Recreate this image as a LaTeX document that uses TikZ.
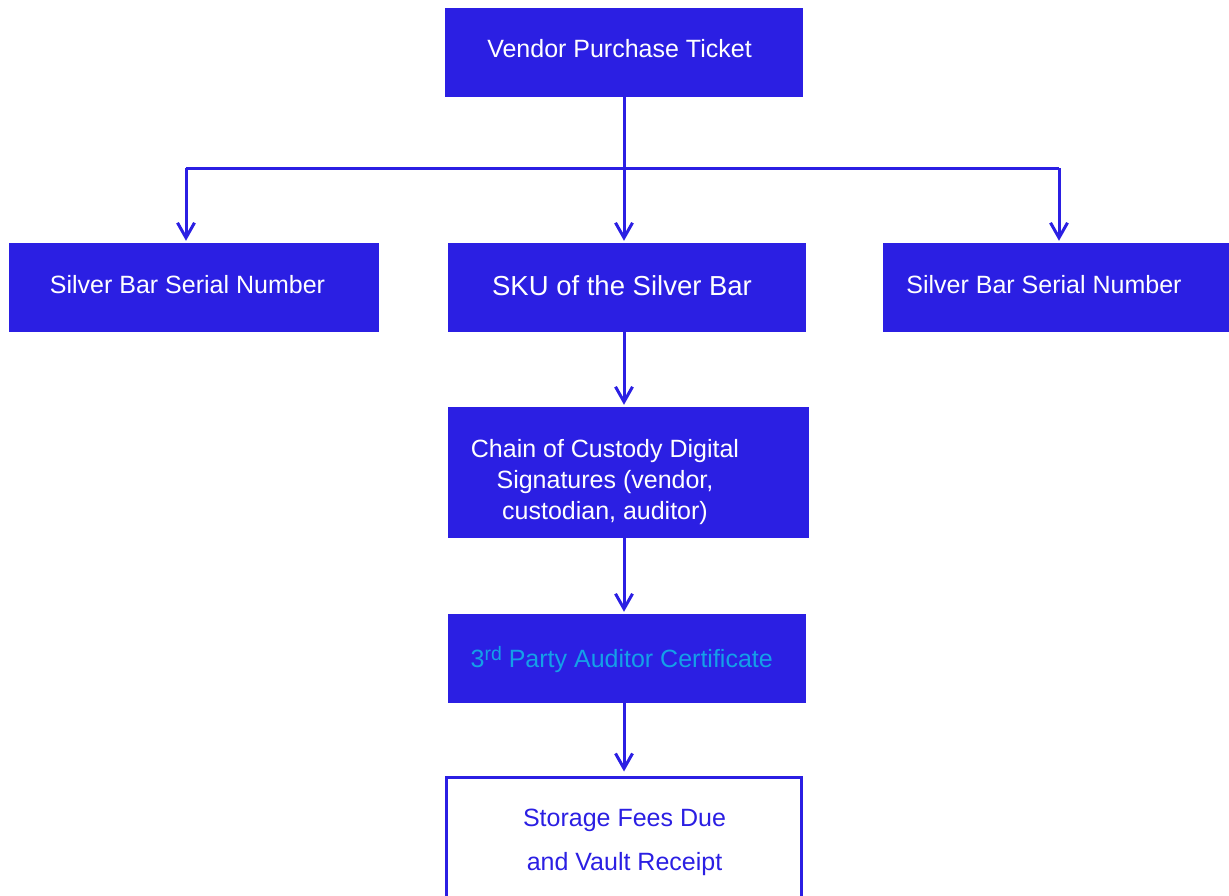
\documentclass[tikz,border=0pt]{standalone}
\usepackage{fontspec}
\setmainfont{Liberation Sans}
\usetikzlibrary{arrows.meta}
\definecolor{barblue}{RGB}{43,31,227}
\definecolor{certcyan}{RGB}{20,160,232}
\tikzset{
	box/.style={rectangle, fill=barblue, inner sep=0pt, minimum height=89pt},
	txt/.style={text=white, font=\fontsize{25}{31}\selectfont, inner sep=0pt, anchor=base, align=center},
	link/.style={draw=barblue, line width=3pt},
	arr/.style={link, -{Straight Barb[length=15pt,width=17pt]}, shorten >=2pt},
}
\begin{document}
\begin{tikzpicture}[x=1pt, y=-1pt]
	\useasboundingbox (0,0) rectangle (1229,896);
	\node[box, minimum width=358pt] (vendor) at (624,52.5) {};
	\node[txt] (vendortxt) at (619.5,57.3) {Vendor Purchase Ticket};
	\node[box, minimum width=370pt] (serialleft) at (194,287.5) {};
	\node[txt] (seriallefttxt) at (187.5,293.3) {Silver Bar Serial Number};
	\node[box, minimum width=358pt] (sku) at (627,287.5) {};
	\node[txt, font=\fontsize{27.5}{33}\selectfont] (skutxt) at (622,295) {SKU of the Silver Bar};
	\node[box, minimum width=346pt] (serialright) at (1056,287.5) {};
	\node[txt] (serialrighttxt) at (1044,293.3) {Silver Bar Serial Number};
	\node[box, minimum width=361pt, minimum height=131pt] (chain) at (628.5,472.5) {};
	\node[txt] (chaintxt) at (605,519) {Chain of Custody Digital\\Signatures (vendor,\\custodian, auditor)};
	\node[box, minimum width=358pt] (auditor) at (627,658.5) {};
	\node[txt, text=certcyan] (auditortxt) at (621.7,667.7) {3\raisebox{7pt}{\fontsize{19.5}{20}\selectfont rd} Party Auditor Certificate};
	\node[rectangle, draw=barblue, line width=3pt, fill=white, minimum width=355pt, minimum height=200pt] (storage) at (624,877.5) {};
	\node[txt, text=barblue, font=\fontsize{25}{43.3}\selectfont] (storagetxt) at (624.5,870) {Storage Fees Due\\and Vault Receipt};

	\coordinate (splitleft) at (186,168.3);
	\coordinate (splitright) at (1059,168.3);
	\draw[link] (splitleft) -- (splitright);
	\draw[arr] (vendor.south) -- (vendor.south |- sku.north);
	\draw[arr] (splitleft) -- (splitleft |- serialleft.north);
	\draw[arr] (splitright) -- (splitright |- serialright.north);
	\draw[arr] (sku.south -| vendor) -- (chain.north -| vendor);
	\draw[arr] (chain.south -| vendor) -- (auditor.north -| vendor);
	\draw[arr, shorten >=4.5pt] (auditor.south -| vendor) -- (storage.north -| vendor);
\end{tikzpicture}
\end{document}
